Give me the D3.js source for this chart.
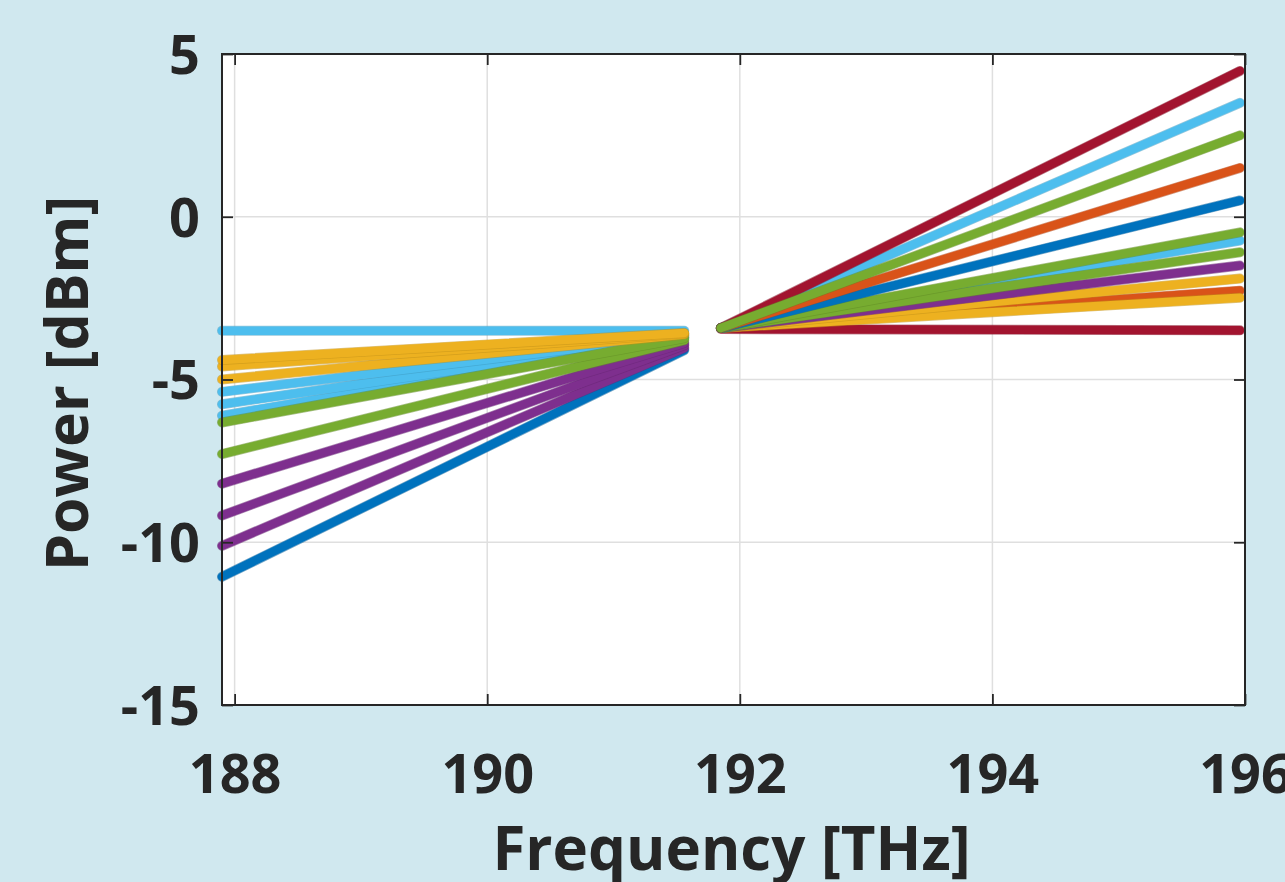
<!DOCTYPE html>
<html>
<head>
<meta charset="utf-8">
<script src="https://cdn.jsdelivr.net/npm/d3@7"></script>
<style>
  html, body { margin: 0; padding: 0; background: #d0e8ef; }
  svg { display: block; }
  text { font-family: "Open Sans", "Noto Sans", sans-serif; font-weight: 700; fill: #262626; }
</style>
</head>
<body>
<svg id="chart" width="1285" height="882"></svg>
<script>
// ---- data ----
const xTicks = [188, 190, 192, 194, 196];
const yTicks = [-15, -10, -5, 0, 5];

// left band (L-band): first and last channel frequency
const leftFreq = [187.9, 191.56];
const leftStart = [-11.06, -10.11, -9.18, -8.20, -3.50, -6.11, -5.76, -5.38, -7.29, -6.32, -5.00, -4.60, -4.40];
const leftEnd   = [-4.10, -4.03, -3.95, -3.88, -3.50, -3.71, -3.68, -3.65, -3.80, -3.73, -3.62, -3.59, -3.57];
const leftColor = ["#0072BD", "#7E2F8E", "#7E2F8E", "#7E2F8E", "#4DBEEE", "#4DBEEE", "#4DBEEE", "#4DBEEE",
                   "#77AC30", "#77AC30", "#EDB120", "#EDB120", "#EDB120"];

// right band (C-band)
const rightFreq = [191.85, 195.96];
const rightStart = [-3.45, -3.42, -3.42, -3.42, -3.42, -3.42, -3.42, -3.42, -3.42, -3.42, -3.42, -3.42, -3.42];
const rightEnd   = [-3.49, -2.27, -2.49, -1.90, -1.50, -0.73, -1.09, -0.48, 0.50, 1.50, 3.50, 4.48, 2.50];
const rightColor = ["#A2142F", "#D95319", "#EDB120", "#EDB120", "#7E2F8E", "#4DBEEE", "#77AC30", "#77AC30",
                    "#0072BD", "#D95319", "#4DBEEE", "#A2142F", "#77AC30"];

const xLabel = "Frequency [THz]";
const yLabel = "Power [dBm]";

// ---- layout ----
const svg = d3.select("#chart");
const L = 222, T = 54, R = 1245, B = 705;
const x = d3.scaleLinear().domain([187.9, 196.0]).range([L, R]);
const y = d3.scaleLinear().domain([-15, 5]).range([B, T]);

svg.append("rect").attr("x", L).attr("y", T).attr("width", R - L).attr("height", B - T).attr("fill", "#ffffff");

// grid
const grid = svg.append("g").attr("stroke", "#dfdfdf").attr("stroke-width", 1.5);
xTicks.forEach(t => grid.append("line").attr("x1", x(t)).attr("x2", x(t)).attr("y1", T).attr("y2", B));
yTicks.forEach(t => grid.append("line").attr("x1", L).attr("x2", R).attr("y1", y(t)).attr("y2", y(t)));

// series
const line = d3.line().x(d => x(d[0])).y(d => y(d[1]));
const gS = svg.append("g").attr("fill", "none").attr("stroke-linecap", "round");
function drawSeries(pts, col) {
  const d = line(pts);
  gS.append("path").attr("d", d).attr("stroke", d3.color(col).darker(0.6)).attr("stroke-opacity", 0.55).attr("stroke-width", 10);
  gS.append("path").attr("d", d).attr("stroke", col).attr("stroke-width", 8.6);
}
leftStart.forEach((v, i) => drawSeries([[leftFreq[0], v], [leftFreq[1], leftEnd[i]]], leftColor[i]));
rightStart.forEach((v, i) => drawSeries([[rightFreq[0], v], [rightFreq[1], rightEnd[i]]], rightColor[i]));

// axes
const axX = svg.append("g").attr("transform", `translate(0,${B})`)
  .call(d3.axisBottom(x).tickValues(xTicks).tickSize(-11).tickPadding(0).tickFormat(d3.format("d")));
const axXt = svg.append("g").attr("transform", `translate(0,${T})`)
  .call(d3.axisTop(x).tickValues(xTicks).tickSize(-11).tickFormat(""));
const axY = svg.append("g").attr("transform", `translate(${L},0)`)
  .call(d3.axisLeft(y).tickValues(yTicks).tickSize(-11).tickPadding(0).tickFormat(d => d3.format("d")(d).replace("−", "-")));
const axYr = svg.append("g").attr("transform", `translate(${R},0)`)
  .call(d3.axisRight(y).tickValues(yTicks).tickSize(-11).tickFormat(""));

[axX, axXt, axY, axYr].forEach(a => {
  a.select(".domain").remove();
  a.selectAll(".tick line").attr("stroke", "#262626").attr("stroke-width", 1.8);
});
axX.selectAll(".tick text").attr("y", 88).attr("dy", null).attr("font-size", 54)
  .style("font-family", "'Open Sans', sans-serif").style("font-weight", 700).attr("fill", "#262626");
axY.selectAll(".tick text").attr("x", -22).attr("dy", "0.36em").attr("font-size", 54)
  .style("font-family", "'Open Sans', sans-serif").style("font-weight", 700).attr("fill", "#262626");

svg.append("rect").attr("x", L).attr("y", T).attr("width", R - L).attr("height", B - T)
  .attr("fill", "none").attr("stroke", "#262626").attr("stroke-width", 2);

svg.append("text").attr("x", (L + R) / 2 - 2).attr("y", 870).attr("text-anchor", "middle")
  .attr("font-size", 60).text(xLabel);
svg.append("text").attr("transform", `translate(88,${(T + B) / 2 + 4}) rotate(-90)`).attr("text-anchor", "middle")
  .attr("font-size", 59).text(yLabel);
</script>
</body>
</html>
